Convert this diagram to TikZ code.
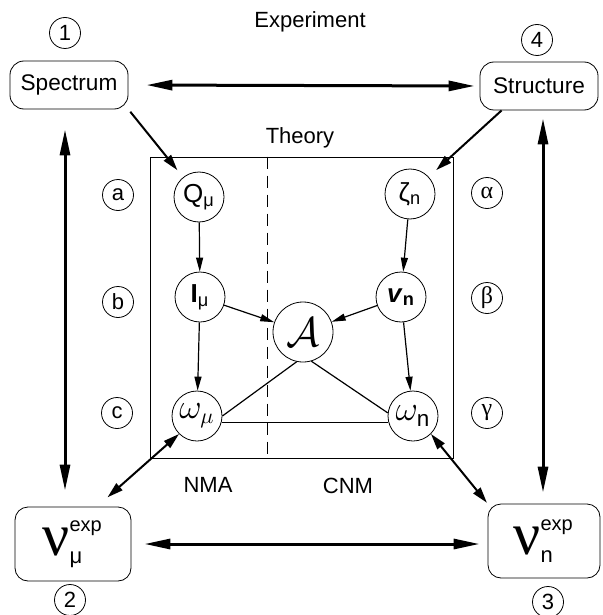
\documentclass[tikz,border=0pt]{standalone}
\usepackage{fontspec}
\setmainfont{Liberation Sans}
\newfontfamily\nufont{Liberation Serif}
\usetikzlibrary{arrows.meta}
\tikzset{x=0.5pt, y=-0.5pt,
  box/.style={draw, rounded corners=7pt, minimum width=59pt, minimum height=24pt, inner sep=1pt, font=\fontsize{11.3}{13}\selectfont},
  vbox/.style={draw, rounded corners=6.5pt, minimum width=58pt, minimum height=37pt, inner sep=1pt},
  var/.style={draw, circle, minimum size=25pt, inner sep=0pt, font=\fontsize{13}{15}\selectfont},
  tag/.style={draw, circle, minimum size=15.5pt, inner sep=0pt, font=\fontsize{11}{13}\selectfont},
  txt/.style={font=\fontsize{11}{13}\selectfont},
  thick2/.style={line width=1.5pt},
  big/.style={thick2, -{Triangle[length=13pt,width=5pt]}},
  bigboth/.style={thick2, {Triangle[length=13pt,width=5pt]}-{Triangle[length=13pt,width=5pt]}},
  mid/.style={line width=1pt, -{Triangle[length=8pt,width=4.5pt]}},
  midboth/.style={line width=1pt, {Triangle[length=8pt,width=4.5pt]}-{Triangle[length=8pt,width=4.5pt]}},
  thin/.style={line width=0.6pt, -{Triangle[length=7pt,width=3.5pt]}}
}

\begin{document}
\begin{tikzpicture}
  \useasboundingbox (0,0) rectangle (602,615);

  % experiment
  \node[txt] (expt) at (310,22) {Experiment};
  \node[box] (spec) at (69,85) {Spectrum};
  \node[box] (struct) at (539,86) {Structure};
  \node[vbox] (vmu) at (73,544) {{\nufont\fontsize{30}{30}\selectfont ν}\raisebox{12pt}{\rlap{\fontsize{10}{12}\selectfont exp}}\raisebox{-4pt}{\makebox[17pt][l]{\fontsize{11}{13}\selectfont μ}}};
  \node[vbox, minimum width=56pt] (vn) at (544,541) {{\nufont\fontsize{30}{30}\selectfont ν}\raisebox{12pt}{\rlap{\fontsize{10}{12}\selectfont exp}}\raisebox{-4pt}{\makebox[17pt][l]{\fontsize{11}{13}\selectfont n}}};
  \node[tag] (t1) at (65,33) {1};
  \node[tag] (t4) at (537,40) {4};
  \node[tag] (t2) at (70,600) {2};
  \node[tag] (t3) at (548,602) {3};

  % theory
  \node[txt] (theo) at (300,138) {Theory};
  \node[draw, line width=0.5pt, minimum width=151.5pt, minimum height=150.5pt, inner sep=0pt] (tbox) at (301.5,307.5) {};
  \draw[dash pattern=on 6pt off 3.5pt] ([xshift=-17.25pt]tbox.north) -- ([xshift=-17.25pt]tbox.south);
  \node[txt] (nma) at (208,485) {NMA};
  \node[txt] (cnm) at (348,486) {CNM};

  \node[var] (q) at (199,197) {Q\textsubscript{μ}};
  \node[var] (zeta) at (410,194) {ζ\textsubscript{n}};
  \node[var] (imu) at (200,297) {\textbf{I}\textsubscript{μ}};
  \node[var] (vnn) at (401,297) {\textbf{\textit{v}}\textsubscript{\textbf{n}}};
  \node[var, minimum size=30pt, font=\fontsize{21}{23}\selectfont] (amat) at (303,332) {$\mathcal{A}$};
  \node[var, font=\fontsize{16}{18}\selectfont] (wmu) at (197,416) {$\omega_\mu$};
  \node[var, font=\fontsize{16}{18}\selectfont] (wn) at (413,416) {$\omega_{\mathrm{n}}$};

  \node[tag] (ta) at (118,195) {a};
  \node[tag] (tb) at (118,302) {b};
  \node[tag] (tc) at (117,413) {c};
  \node[tag, font=\nufont\fontsize{12}{13}\selectfont] (tal) at (487,193) {α};
  \node[tag, font=\nufont\fontsize{12}{13}\selectfont] (tbe) at (487,298) {β};
  \node[tag, font=\nufont\fontsize{12}{13}\selectfont] (tga) at (487,413) {γ};

  % outer arrows
  \draw[bigboth, shorten <=9pt, shorten >=2.5pt] (spec.east) -- (struct.west);
  \draw[bigboth, shorten <=6.5pt, shorten >=4pt] (vmu.east) -- (vmu.east -| vn.west);
  \draw[bigboth, shorten <=10pt, shorten >=8pt] ([xshift=-2pt]spec.south) -- ([xshift=-4pt]vmu.north);
  \draw[bigboth, shorten <=4pt, shorten >=5.5pt] ([xshift=2pt]struct.south) -- ([xshift=-0.5pt]vn.north);

  \draw[mid, shorten <=1.5pt, shorten >=4.5pt] (spec.south east) -- (q);
  \draw[mid, shorten >=5pt] ([xshift=11pt]struct.south west) -- (zeta);
  \draw[midboth, shorten >=7pt] (wmu.south west) -- ([xshift=12pt]vmu.north);
  \draw[midboth, shorten >=0.5pt] (wn.south east) -- (vn.north west);

  % inner graph
  \draw[thin] (q) -- (imu);
  \draw[thin] (imu) -- (wmu);
  \draw[thin] (zeta) -- (vnn);
  \draw[thin] (vnn) -- (wn);
  \draw[thin] (imu) -- (amat);
  \draw[thin] (vnn) -- (amat);
  \draw[line width=0.6pt] (amat.-102) -- (wmu.east);
  \draw[line width=0.6pt] (amat.-74) -- (wn.173);
  \draw[line width=0.6pt] (wmu.-15) -- (wn.195);
\end{tikzpicture}
\end{document}
